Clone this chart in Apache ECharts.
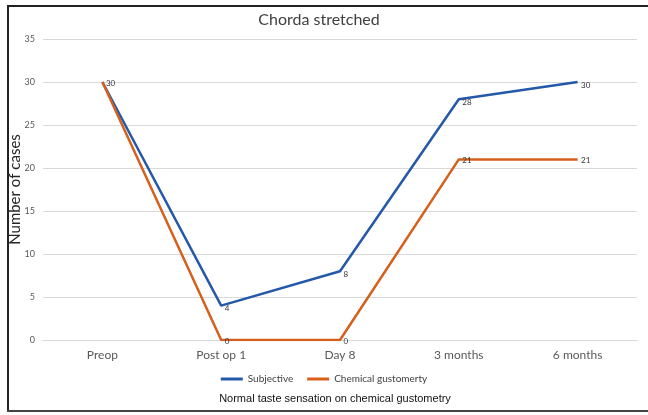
<!DOCTYPE html>
<html><head><meta charset="utf-8">
<script src="https://cdn.jsdelivr.net/npm/echarts@6/dist/echarts.min.js"></script>
<style>html,body{margin:0;padding:0;background:#fff}#c{width:648px;height:415px}</style>
</head><body><div id="c"></div>
<script>
const categories = ['Preop', 'Post op 1', 'Day 8', '3 months', '6 months'];
const subjective = [30, 4, 8, 28, 30];
const chemical = [30, 0, 0, 21, 21];
const seriesNames = ['Subjective', 'Chemical gustomerty'];
const titleText = 'Chorda stretched';
const subtitleText = 'Normal taste sensation on chemical gustometry';
const yName = 'Number of cases';
const colors = ['#2359a8', '#d65f1c'];

const chart = echarts.init(document.getElementById('c'));
const F = 'Lato, "Open Sans", sans-serif';
chart.setOption({
  animation: false,
  title: [
    { text: titleText, left: 314, top: 7, textAlign: 'center',
      textStyle: { fontFamily: F, fontSize: 16, fontWeight: 'normal', color: '#404040' } },
    { text: subtitleText, left: 330, top: 388, textAlign: 'center',
      textStyle: { fontFamily: 'Liberation Sans, Arial, sans-serif', fontSize: 11, fontWeight: 'normal', color: '#111' } }
  ],
  legend: {
    data: seriesNames.map((n, i) => ({ name: n, itemStyle: { color: colors[i] } })),
    left: 'center', top: 369, itemWidth: 22, itemHeight: 3, itemGap: 14,
    icon: 'rect',
    textStyle: { fontFamily: F, fontSize: 10, color: '#404040' }
  },
  grid: { left: 43, right: 11, top: 39, bottom: 75, containLabel: false, outerBoundsMode: 'none' },
  xAxis: {
    type: 'category', data: categories, boundaryGap: true,
    axisLine: { show: true, lineStyle: { color: '#d9d9d9' } },
    axisTick: { show: false },
    axisLabel: { fontFamily: F, fontSize: 12, color: '#595959', margin: 9 }
  },
  yAxis: {
    type: 'value', min: 0, max: 35, interval: 5,
    name: yName, nameLocation: 'middle', nameGap: 20, nameRotate: 90, nameMoveOverlap: false,
    nameTextStyle: { fontFamily: F, fontSize: 15, color: '#262626' },
    axisLine: { show: false }, axisTick: { show: false },
    axisLabel: { fontFamily: F, fontSize: 9, color: '#595959', margin: 8 },
    splitLine: { lineStyle: { color: '#d9d9d9', width: 1 } }
  },
  series: [
    { name: seriesNames[0], type: 'line', data: subjective, symbol: 'circle', symbolSize: 1, showSymbol: true, z: 2,
      lineStyle: { color: colors[0], width: 2.5 }, itemStyle: { color: 'rgba(0,0,0,0)', borderWidth: 0 },
      label: { show: true, position: 'right', distance: 3, offset: [0, 3],
        fontFamily: F, fontSize: 8, color: '#333',
        formatter: p => p.dataIndex === 0 ? '' : String(p.value) } },
    { name: seriesNames[1], type: 'line', data: chemical, symbol: 'circle', symbolSize: 1, showSymbol: true, z: 3,
      lineStyle: { color: colors[1], width: 2.5 }, itemStyle: { color: 'rgba(0,0,0,0)', borderWidth: 0 },
      label: { show: true, position: 'right', distance: 3, offset: [0, 1],
        fontFamily: F, fontSize: 8, color: '#333' } }
  ],
  graphic: [
    { type: 'line', shape: { x1: 8, y1: 6, x2: 8, y2: 411 }, style: { stroke: '#222', lineWidth: 2 } },
    { type: 'line', shape: { x1: 7, y1: 6, x2: 648, y2: 6 }, style: { stroke: '#222', lineWidth: 2 } },
    { type: 'line', shape: { x1: 7, y1: 411, x2: 648, y2: 411 }, style: { stroke: '#444', lineWidth: 2 } }
  ]
});
</script></body></html>
